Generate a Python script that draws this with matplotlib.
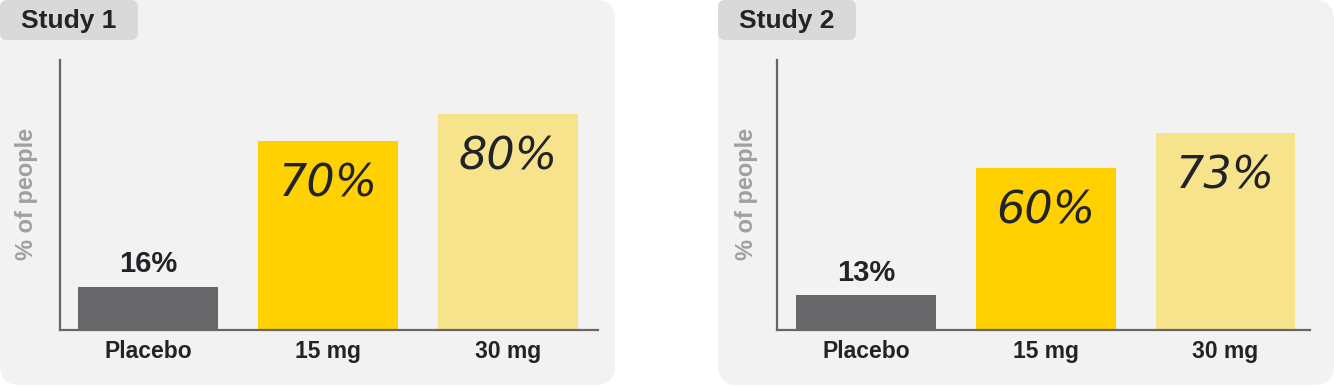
import matplotlib
matplotlib.use("Agg")
import matplotlib.pyplot as plt
from matplotlib.patches import FancyBboxPatch

plt.rcParams['font.family'] = ['Liberation Sans', 'DejaVu Sans']

# data
groups = ['Placebo', '15 mg', '30 mg']
study_names = ['Study 1', 'Study 2']
study1 = [16, 70, 80]
study2 = [13, 60, 73]
bar_colors = ['#67676a', '#ffd100', '#f7e38b']
ink = '#222326'

W, H = 13.34, 3.86
fig = plt.figure(figsize=(W, H), dpi=100, facecolor='white')


def px_box(x0, y0, x1, y1, color, rad):
    # pixel coords measured from top-left -> inches
    p = FancyBboxPatch((x0 / 100, (386 - y1) / 100), (x1 - x0) / 100, (y1 - y0) / 100,
                       boxstyle="round,pad=0,rounding_size=%f" % (rad / 100),
                       transform=fig.dpi_scale_trans, facecolor=color,
                       edgecolor='none', zorder=-2)
    fig.patches.append(p)


# panels and tabs
px_box(0, 0, 615, 385, '#f2f2f2', 20)
px_box(718, 0, 1334, 385, '#f2f2f2', 20)
px_box(0, 0, 138, 40, '#d9d9d9', 7)
px_box(718, 0, 856, 40, '#d9d9d9', 7)

panels = [
    dict(vals=study1, left=60, right=598, xlim=(-0.489, 2.5), tab=(0, 138), ylab=27),
    dict(vals=study2, left=777, right=1310, xlim=(-0.494, 2.47), tab=(718, 856), ylab=746),
]

for name, pn in zip(study_names, panels):
    ax = fig.add_axes([pn['left'] / 1334, (386 - 330) / 386,
                       (pn['right'] - pn['left']) / 1334, 270 / 386])
    ax.set_zorder(1)
    ax.patch.set_alpha(0)
    vals = pn['vals']
    x = range(len(groups))
    ax.bar(x, vals, width=0.778, color=bar_colors, zorder=2)
    ax.set_xlim(*pn['xlim'])
    ax.set_ylim(0, 100)
    for s in ['top', 'right']:
        ax.spines[s].set_visible(False)
    for s in ['left', 'bottom']:
        ax.spines[s].set_color('#666666')
        ax.spines[s].set_linewidth(1.6)
    ax.set_yticks([])
    ax.set_xticks(list(x))
    ax.set_xticklabels(groups, fontsize=16.5, fontweight='bold', color=ink)
    ax.tick_params(axis='x', length=0, pad=7)

    # placebo value above bar
    ax.annotate(f'{vals[0]}%', (0, vals[0]), xytext=(0, 6), textcoords='offset points',
                ha='center', va='bottom', fontsize=21, fontweight='bold', color=ink)
    # "handwritten" values inside bars
    for i in [1, 2]:
        ax.annotate(f'{vals[i]}%', (i, vals[i]), xytext=(0, -31), textcoords='offset points',
                    ha='center', va='center', fontsize=32, style='italic',
                    family='DejaVu Sans', color=ink)

    # tab title
    t0, t1 = pn['tab']
    fig.text((t0 + t1) / 2 / 1334, (386 - 21) / 386, name, ha='center', va='center',
             fontsize=19, fontweight='bold', color=ink)
    # y label
    fig.text(pn['ylab'] / 1334, (386 - 194) / 386, '% of people', rotation=90,
             ha='center', va='center', fontsize=17, fontweight='bold', color='#a0a0a0')

fig.savefig('out.png', dpi=100, facecolor='white')
